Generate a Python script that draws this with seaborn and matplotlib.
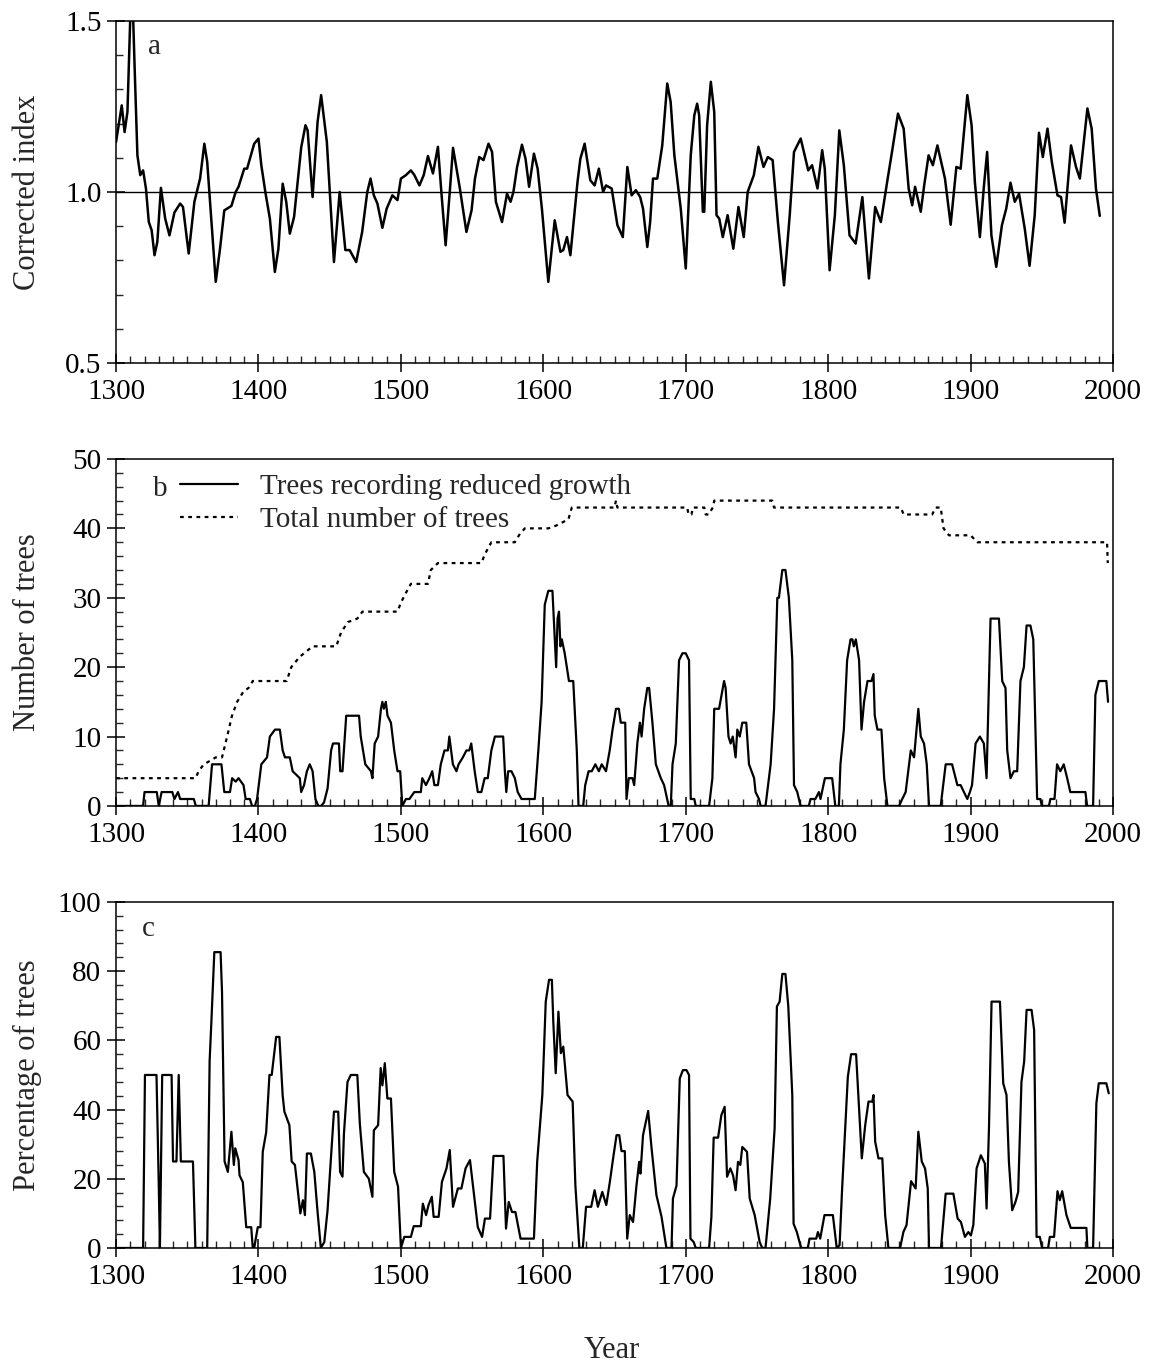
import pandas as pd
import matplotlib
matplotlib.use("Agg")
import matplotlib.pyplot as plt
import seaborn as sns
from matplotlib.ticker import MultipleLocator

# (year, corrected ring-width index) - panel a
index_a = [
    (1300, 1.146), (1304, 1.253), (1306, 1.175), (1308, 1.234), (1311, 1.65), (1313, 1.37),
    (1315, 1.107), (1317, 1.049), (1319, 1.063), (1321, 1.01), (1323, 0.912), (1325, 0.888),
    (1327, 0.815), (1329, 0.854), (1331.5, 1.012), (1334.5, 0.922), (1337.5, 0.873), (1341, 0.94),
    (1345, 0.966), (1347, 0.956), (1351, 0.82), (1355, 0.971), (1359, 1.039), (1362, 1.141),
    (1364, 1.088), (1367, 0.912), (1370, 0.737), (1373, 0.834), (1376, 0.946), (1381, 0.959),
    (1384, 1.0), (1386, 1.015), (1390, 1.068), (1392, 1.068), (1397, 1.141), (1400, 1.156),
    (1402, 1.078), (1405, 0.995), (1408, 0.922), (1411.5, 0.766), (1414, 0.834), (1417, 1.024),
    (1419.5, 0.971), (1422, 0.878), (1425, 0.927), (1430, 1.13), (1433, 1.195), (1434.5, 1.18),
    (1438, 0.985), (1441.5, 1.205), (1444, 1.283), (1448, 1.146), (1453, 0.795), (1457, 1.0),
    (1461, 0.83), (1464, 0.83), (1468.6, 0.795), (1472.8, 0.883), (1476.4, 1.0), (1478.7, 1.039),
    (1481, 0.99), (1483.5, 0.966), (1487, 0.895), (1490, 0.951), (1494, 0.99), (1497.6, 0.976),
    (1500, 1.039), (1503.5, 1.049), (1507, 1.063), (1509.5, 1.049), (1513, 1.019), (1516, 1.049),
    (1519, 1.105), (1522.5, 1.054), (1526, 1.132), (1528.4, 1.0), (1531.4, 0.844), (1534.3, 1.0),
    (1536.6, 1.129), (1541.4, 1.01), (1546, 0.883), (1549.6, 0.946), (1552, 1.039), (1555, 1.102),
    (1558, 1.093), (1561.5, 1.141), (1564, 1.117), (1566.7, 0.971), (1571, 0.912), (1574.5, 0.995),
    (1577, 0.971), (1579, 1.0), (1581.6, 1.073), (1585, 1.138), (1587.5, 1.097), (1590, 1.015),
    (1593.4, 1.112), (1596, 1.068), (1599, 0.951), (1603.5, 0.737), (1608, 0.917), (1612, 0.825),
    (1614, 0.83), (1616.6, 0.868), (1619, 0.815), (1624, 1.029), (1626, 1.097), (1629, 1.141),
    (1633, 1.034), (1636, 1.019), (1639, 1.068), (1642, 1.0), (1644, 1.019), (1648, 1.01),
    (1652, 0.903), (1655.8, 0.868), (1659, 1.073), (1662, 0.99), (1665, 1.005), (1668, 0.985),
    (1670, 0.951), (1673, 0.839), (1675, 0.912), (1677, 1.039), (1680, 1.039), (1683.5, 1.136),
    (1687, 1.317), (1689.4, 1.263), (1692, 1.107), (1696.5, 0.951), (1700, 0.776), (1703.5, 1.107),
    (1706, 1.224), (1708, 1.258), (1709.4, 1.224), (1712, 0.942), (1713, 0.942), (1715, 1.195),
    (1717.6, 1.322), (1720, 1.234), (1721.6, 0.932), (1723.5, 0.922), (1726, 0.868), (1729.4, 0.932),
    (1733.4, 0.834), (1737, 0.956), (1740.7, 0.868), (1743.5, 1.0), (1747.8, 1.049), (1751, 1.132),
    (1754.6, 1.073), (1757.6, 1.102), (1761, 1.093), (1764.7, 0.912), (1769, 0.727), (1773, 0.932),
    (1776, 1.117), (1780.7, 1.156), (1786, 1.063), (1788.7, 1.078), (1792.5, 1.01), (1795.8, 1.122),
    (1797.6, 1.068), (1801, 0.771), (1804.7, 0.932), (1807.8, 1.18), (1811, 1.078), (1815, 0.873),
    (1819.3, 0.849), (1824, 0.985), (1828.6, 0.747), (1833, 0.956), (1837, 0.912), (1841.4, 1.029),
    (1845, 1.122), (1849, 1.229), (1853, 1.185), (1856.5, 1.01), (1859, 0.961), (1861, 1.015),
    (1865, 0.942), (1867.4, 1.019), (1870.5, 1.107), (1873.5, 1.078), (1876.7, 1.136), (1882, 1.039),
    (1886, 0.904), (1890, 1.073), (1893, 1.068), (1897.7, 1.283), (1900.7, 1.195), (1903, 1.029),
    (1906.5, 0.868), (1909.3, 1.015), (1911.6, 1.117), (1914.6, 0.873), (1918, 0.781), (1922, 0.903),
    (1925, 0.951), (1928, 1.027), (1931, 0.971), (1934, 0.995), (1938, 0.893), (1941.4, 0.784),
    (1945, 0.932), (1948, 1.173), (1950.7, 1.102), (1954, 1.185), (1957, 1.088), (1961, 0.99),
    (1963.5, 0.985), (1966, 0.91), (1970.5, 1.136), (1974, 1.073), (1976.7, 1.039), (1982, 1.244),
    (1985, 1.185), (1988, 1.01), (1990.7, 0.93),
]

# (year, trees recording reduced growth) - panel b solid
reduced_b = [
    (1300, 0), (1319, 0), (1320, 2), (1328.6, 2), (1330, 0), (1332, 2), (1339.5, 2), (1341, 1),
    (1343.5, 2), (1345, 1), (1354.6, 1), (1356, 0), (1365, 0), (1367.4, 6), (1374, 6), (1376, 2),
    (1380, 2), (1381.5, 4), (1384, 3.5), (1386, 4), (1389.5, 3), (1391, 1), (1394, 1), (1395.5, 0),
    (1397.5, 0), (1399, 1), (1402, 6), (1406, 7), (1408, 10), (1411.6, 11), (1415, 11), (1417, 8),
    (1418.6, 7), (1422, 7), (1424, 5), (1429, 4), (1430, 2), (1432, 3), (1434, 5), (1436, 6),
    (1438, 5), (1440, 1), (1442, 0), (1444, 0), (1446, 0.5), (1448.5, 2.5), (1451, 8), (1452.3, 9),
    (1456.5, 9), (1457.4, 5), (1459, 5), (1460, 8), (1461.6, 13), (1470.6, 13), (1471.8, 10),
    (1475, 6), (1479, 5), (1480, 4), (1481.6, 9), (1484, 10), (1486, 14), (1487, 15), (1488, 14),
    (1489.4, 15), (1490.6, 13), (1493, 12), (1495.3, 8), (1497.6, 5), (1499.5, 5), (1501, 0),
    (1503.5, 1), (1506, 1), (1509.4, 2), (1514, 2), (1515, 4), (1517.6, 3), (1520, 4), (1522, 5),
    (1523.5, 3), (1526, 3), (1528, 6), (1530.6, 8), (1533, 8), (1534, 10), (1536.5, 6), (1539, 5),
    (1540.5, 6), (1543.5, 7), (1546, 8), (1548, 8), (1549.4, 9), (1551.8, 5), (1554, 2), (1556.5, 2),
    (1558.8, 4), (1561, 4), (1563.5, 8), (1566, 10), (1571.8, 10), (1573, 5), (1574, 2), (1575.3, 5),
    (1577.6, 5), (1580, 4), (1582, 2), (1584.7, 1), (1594, 1), (1596.5, 8), (1598.8, 15), (1601, 29),
    (1603.5, 31), (1606.4, 31), (1607.8, 25), (1609, 20), (1610, 27), (1611, 28), (1612, 23),
    (1613, 24), (1615, 22), (1618, 18), (1621, 18), (1623.5, 8), (1624.7, 0), (1628, 0), (1629.4, 3),
    (1631.8, 5), (1634, 5), (1636.5, 6), (1639, 5), (1641, 6), (1644, 5), (1646.6, 8), (1648.6, 11),
    (1651, 14), (1653, 14), (1654.4, 12), (1657.5, 12), (1658.4, 1), (1660, 4), (1662.6, 4),
    (1663.8, 3), (1666, 9), (1667.8, 12), (1669, 10), (1670.8, 14), (1673, 17), (1674.3, 17),
    (1676.6, 12), (1679, 6), (1682.5, 4), (1684.8, 3), (1688, 0), (1689.5, 0), (1690.7, 6), (1693, 9),
    (1695.3, 21), (1697.7, 22), (1700, 22), (1702.3, 21), (1703.5, 1), (1706, 1), (1707, 0),
    (1716.4, 0), (1718.7, 4), (1720, 14), (1723.4, 14), (1726.9, 18), (1728, 17), (1730, 10),
    (1731.5, 9), (1733, 10), (1735, 7), (1736.2, 11), (1737.9, 10), (1739.7, 12), (1742.5, 12),
    (1744.4, 6), (1748, 4), (1749, 2), (1751.4, 1), (1752.6, 0), (1756, 0), (1759.6, 6), (1762, 14),
    (1764.3, 30), (1765.4, 30), (1767.8, 34), (1770, 34), (1772.4, 30), (1774.8, 21), (1776, 3),
    (1778.3, 2), (1780.6, 0), (1786.4, 0), (1787.6, 1), (1791, 1), (1793.5, 2), (1794.6, 1),
    (1797.7, 4), (1802.8, 4), (1805, 0), (1807.5, 0), (1808.6, 6), (1811, 11), (1813.3, 21),
    (1815.7, 24), (1817, 24), (1818, 23), (1819.4, 24), (1821.7, 21), (1823.4, 11), (1825.2, 15),
    (1827.6, 18), (1830.4, 18), (1831.8, 19), (1832.7, 13), (1834.6, 11), (1837.4, 11), (1839.3, 4),
    (1841.6, 0), (1849.8, 0), (1852, 1), (1854.4, 2), (1858, 8), (1860.3, 7), (1863.3, 14),
    (1865, 10), (1867.3, 9), (1869.2, 6), (1870.8, 0), (1879, 0), (1882.5, 6), (1887, 6),
    (1890.7, 3), (1893, 3), (1895.3, 2), (1897.7, 1), (1899.5, 2), (1901, 3), (1903.5, 9),
    (1906.5, 10), (1909.3, 9), (1911.2, 4), (1912.9, 18), (1914, 27), (1919.9, 27), (1922.2, 18),
    (1924.5, 17), (1925.7, 8), (1928, 4), (1930.4, 5), (1932.7, 5), (1935, 18), (1937.4, 20),
    (1939.3, 26), (1942, 26), (1944, 24), (1946.7, 1), (1949, 1), (1950, 0), (1955, 0), (1956, 1),
    (1958.9, 1), (1960.7, 6), (1963, 5), (1965.4, 6), (1967.8, 4), (1970, 2), (1980.6, 2),
    (1981.8, 0), (1986, 0), (1987.6, 16), (1990, 18), (1995.3, 18), (1996.5, 15),
]

# (year, total number of trees) - panel b dotted
total_b = [
    (1300, 4), (1355.8, 4), (1358, 5), (1361.6, 6), (1366, 6.5), (1370, 7), (1374.4, 7), (1378, 10),
    (1381.4, 13), (1385, 15), (1389.5, 16.5), (1393, 17), (1396, 18), (1419.8, 18), (1423, 20),
    (1429, 21.5), (1438, 23), (1454.6, 23), (1458, 25), (1462.8, 26.5), (1469.4, 27), (1473, 28),
    (1497.6, 28), (1500, 29.3), (1503.5, 30.7), (1507, 32), (1519, 32), (1521, 34), (1526, 35),
    (1556.5, 35), (1559, 36.3), (1563.5, 38), (1580, 38), (1583.5, 39.2), (1587, 40), (1603.5, 40),
    (1609, 40.4), (1617.6, 41.3), (1620, 43), (1650, 43), (1651, 44), (1652, 43), (1701, 43),
    (1702, 42), (1704, 42), (1705, 43), (1713, 43), (1714, 42), (1716, 42), (1719, 43), (1720, 44),
    (1760.7, 44), (1762, 43), (1851, 43), (1853, 42), (1873, 42), (1875.5, 43), (1879, 43),
    (1881, 40), (1884.8, 39), (1900, 39), (1904.7, 38), (1995.8, 38), (1996.3, 35),
]

# (year, percentage of trees) - panel c
percent_c = [
    (1300, 0), (1319, 0), (1320.3, 50), (1328.4, 50), (1330, 18), (1330.8, 0), (1332.4, 50),
    (1339, 50), (1340, 25), (1342.4, 25), (1344, 50), (1345.5, 25), (1354, 25), (1355.7, 0),
    (1364, 0), (1365.7, 54), (1367, 66), (1369, 85.5), (1373.4, 85.5), (1374.4, 74), (1376.2, 25),
    (1378.5, 22), (1381, 33.6), (1382.7, 24), (1383.7, 28.8), (1386, 25.4), (1386.7, 21), (1389, 19),
    (1391.4, 6), (1394.9, 6), (1396, 0), (1397, 0), (1399.5, 6), (1401.4, 6), (1403, 27.8),
    (1405.4, 33.4), (1407.7, 50), (1409.3, 50), (1412.4, 61), (1414.7, 61), (1417, 44),
    (1418.2, 39.4), (1421.7, 35.5), (1423.3, 25), (1425.6, 24), (1429.4, 10), (1431.2, 13.8),
    (1432.6, 9.5), (1434, 27.3), (1436.8, 27.3), (1439.2, 22), (1441.5, 10.4), (1443.8, 0),
    (1446.2, 1.7), (1448.5, 10.9), (1453, 39.4), (1456, 39.4), (1457.3, 22), (1459, 20.6),
    (1460, 33), (1462.5, 48), (1464.8, 50), (1469.4, 50), (1471.2, 35.7), (1474, 22), (1477.5, 20),
    (1480, 14.8), (1481, 34), (1484, 35.5), (1485.8, 52), (1487, 47), (1488.7, 53.4), (1490.5, 43.2),
    (1493, 43.2), (1495.3, 22), (1498, 17.7), (1500, 0), (1502.4, 3.2), (1507, 3.2), (1509, 6.3),
    (1514, 6.3), (1515.4, 12.8), (1517.7, 9.5), (1519.4, 12.4), (1521.7, 14.8), (1523, 9),
    (1526.5, 9), (1528.8, 19.1), (1532, 23), (1534.3, 28.3), (1536.6, 11.9), (1540, 17.2),
    (1542.5, 17.2), (1545.4, 23), (1548.5, 25.4), (1550.8, 17.2), (1554, 6), (1557, 3.2),
    (1559, 8.5), (1562.6, 8.5), (1565, 26.6), (1572, 26.6), (1573.8, 5.6), (1575.7, 13.3),
    (1578, 10.4), (1580.4, 10.4), (1584, 2.7), (1593.4, 2.7), (1595.7, 25), (1599.3, 44.2),
    (1601.7, 71.2), (1604, 77.5), (1606, 77.5), (1607, 65.4), (1608.7, 50.5), (1610.6, 68.3),
    (1612.3, 56.3), (1614, 58.2), (1617, 44.2), (1620.6, 42.3), (1622.5, 18.1), (1625.3, 0),
    (1627.7, 0), (1630, 11.9), (1633.6, 11.9), (1636, 16.7), (1638.3, 11.9), (1641.4, 16.2),
    (1644.2, 12.4), (1646.7, 19.1), (1649, 25.9), (1651.4, 32.6), (1653.3, 32.6), (1654.9, 28),
    (1657.2, 28), (1658.9, 2.7), (1660.7, 9.5), (1663, 7.5), (1665.4, 18.1), (1667.3, 24.9),
    (1668.2, 21.5), (1670, 32.6), (1673.6, 39.6), (1676, 28.8), (1679.4, 15.3), (1683, 9),
    (1686.4, 0), (1690, 0), (1691, 14.3), (1693.5, 18), (1695.8, 49), (1698, 51.4), (1700.5, 51.4),
    (1702.3, 50), (1703.3, 2.7), (1705.6, 1.7), (1707, 0), (1716.4, 0), (1718, 9), (1719.6, 31.9),
    (1722.7, 31.9), (1725, 38.4), (1727.3, 40.8), (1729, 20.6), (1731.3, 23), (1733.2, 21),
    (1735, 16.7), (1736.7, 24.9), (1738.3, 24), (1739.7, 29.2), (1743, 27.8), (1744.9, 14.3),
    (1748.4, 9.5), (1751.9, 1.7), (1753.7, 0), (1756, 0), (1759.3, 14.3), (1762.4, 34.6),
    (1764, 69.8), (1765.9, 71.2), (1767.8, 79.2), (1770, 79.2), (1772, 69.8), (1774.8, 44.2),
    (1775.7, 7), (1778, 4.6), (1781, 0), (1785.7, 0), (1786.9, 2.7), (1791.6, 2.7), (1792.8, 4.6),
    (1794.4, 2.7), (1797.4, 9.5), (1803.3, 9.5), (1806, 0), (1808, 0.8), (1809.8, 17.2),
    (1813.8, 49.5), (1816.1, 56), (1819.6, 56), (1822.4, 34.6), (1823.6, 25.9), (1826, 35.5),
    (1828.3, 42.3), (1831, 42.3), (1831.8, 44.2), (1833, 30.7), (1835.3, 25.9), (1838, 25.9),
    (1840, 9.5), (1842.3, 0), (1850.5, 0), (1852.8, 4.6), (1855, 6.6), (1858.2, 19.3),
    (1861.4, 17.2), (1863.3, 33.6), (1865.7, 25), (1868, 23), (1869.9, 17.2), (1870.8, 0),
    (1879.2, 0), (1882.5, 15.7), (1887.9, 15.7), (1890.9, 8.5), (1893.2, 7.5), (1896, 3.2),
    (1898.4, 4.6), (1900.2, 3.6), (1901.9, 6.6), (1904.2, 23), (1907.2, 26.8), (1910, 24.4),
    (1911.2, 11.4), (1912.9, 34.6), (1914.7, 71.2), (1920.6, 71.2), (1922.9, 47.6), (1925.2, 44.2),
    (1926.9, 24.9), (1929.2, 10.9), (1931.5, 13.3), (1933.4, 16.2), (1935.7, 48), (1937.6, 53.9),
    (1939.3, 68.8), (1942.8, 68.8), (1944.6, 63), (1946.3, 3.2), (1948.6, 3.2), (1950.2, 0),
    (1954.4, 0), (1955.6, 3.2), (1958.6, 3.2), (1961, 16.4), (1962.6, 13.8), (1964.3, 16.4),
    (1967.3, 9.5), (1970.3, 5.8), (1981.3, 5.8), (1982, 0), (1986, 0), (1988.3, 41.8),
    (1990, 47.6), (1995.3, 47.6), (1997, 44.7),
]

TICK_FS = 21
LABEL_FS = 22
TEXT_FS = 21


def to_df(points, col):
    return pd.DataFrame(points, columns=['year', col])


def style_axis(ax, ymin, ymax, ymajor, yminor):
    ax.set_xlim(1300, 2000)
    ax.set_ylim(ymin, ymax)
    ax.xaxis.set_major_locator(MultipleLocator(100))
    ax.xaxis.set_minor_locator(MultipleLocator(10))
    ax.yaxis.set_major_locator(MultipleLocator(ymajor))
    ax.yaxis.set_minor_locator(MultipleLocator(yminor))
    ax.tick_params(which='major', direction='inout', length=13, width=1.1,
                   labelsize=TICK_FS, colors='black')
    ax.tick_params(axis='x', which='major', pad=5)
    ax.tick_params(axis='y', which='major', pad=4)
    ax.tick_params(which='minor', direction='in', length=5, width=1.0)
    for sp in ax.spines.values():
        sp.set_visible(True)
        sp.set_color('black')
        sp.set_linewidth(1.1)
    ax.set_xlabel('')
    ax.yaxis.set_label_coords(-0.074, 0.5)


sns.set_style("ticks")
plt.rcParams['font.family'] = ['Liberation Serif', 'DejaVu Serif']

fig = plt.figure(figsize=(11.57, 13.66), dpi=100)
ax_a = fig.add_axes([0.1003, 0.7343, 0.8617, 0.2504])
ax_b = fig.add_axes([0.1003, 0.4100, 0.8617, 0.2540])
ax_c = fig.add_axes([0.1003, 0.0864, 0.8617, 0.2533])

# a - corrected index
sns.lineplot(data=to_df(index_a, 'index'), x='year', y='index', ax=ax_a,
             color='black', linewidth=1.8, estimator=None, sort=False)
ax_a.axhline(1.0, color='black', linewidth=1.0)
style_axis(ax_a, 0.5, 1.5, 0.5, 0.1)
ax_a.set_ylabel('Corrected index', fontsize=LABEL_FS)
ax_a.text(0.039, 0.925, 'a', transform=ax_a.transAxes, fontsize=TEXT_FS, ha='center', va='center')

# b - number of trees
sns.lineplot(data=to_df(reduced_b, 'n'), x='year', y='n', ax=ax_b, color='black',
             linewidth=1.6, estimator=None, sort=False, label='Trees recording reduced growth')
sns.lineplot(data=to_df(total_b, 'n'), x='year', y='n', ax=ax_b, color='black',
             linewidth=1.6, linestyle=(0, (1.7, 2.0)), estimator=None, sort=False,
             label='Total number of trees')
style_axis(ax_b, 0, 50, 10, 2)
ax_b.set_ylabel('Number of trees', fontsize=LABEL_FS)
ax_b.text(0.044, 0.913, 'b', transform=ax_b.transAxes, fontsize=TEXT_FS, ha='center', va='center')
ax_b.legend(loc='upper left', bbox_to_anchor=(0.064, 0.958), frameon=False, fontsize=TEXT_FS,
            handlelength=2.0, handletextpad=0.75, labelspacing=0.22, borderpad=0,
            borderaxespad=0)

# c - percentage of trees
sns.lineplot(data=to_df(percent_c, 'pct'), x='year', y='pct', ax=ax_c, color='black',
             linewidth=1.6, estimator=None, sort=False)
style_axis(ax_c, 0, 100, 20, 4)
ax_c.set_ylabel('Percentage of trees', fontsize=LABEL_FS)
ax_c.text(0.032, 0.922, 'c', transform=ax_c.transAxes, fontsize=TEXT_FS, ha='center', va='center')
ax_c.set_xlabel('Year', fontsize=LABEL_FS)
ax_c.xaxis.set_label_coords(0.497, -0.255)

fig.savefig('out.png', dpi=100)
